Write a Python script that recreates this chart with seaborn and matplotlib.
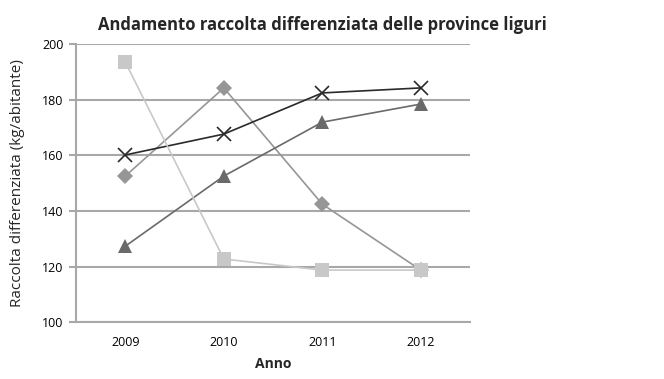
import matplotlib
matplotlib.use('Agg')
import matplotlib.pyplot as plt
import seaborn as sns
import pandas as pd
import numpy as np

# dati
anni = ['2009', '2010', '2011', '2012']
serie_quadrato = [193.5, 122.7, 118.7, 118.7]
serie_rombo = [152.5, 184.2, 142.4, 118.7]
serie_triangolo = [127.3, 152.5, 171.9, 178.4]
serie_croce = [160.1, 167.6, 182.4, 184.2]

sns.set_theme(style='white')
plt.rcParams['font.family'] = ['Open Sans', 'DejaVu Sans']

fig = plt.figure(figsize=(6.64, 3.79), dpi=100)
ax = fig.add_axes([0.1145, 0.150, 0.5935, 0.734])

pos = np.arange(len(anni))
# ordine di disegno: il quadrato sta sopra il rombo nel 2012
stili = [
    (serie_rombo, 'D', '#969696', 8),
    (serie_triangolo, '^', '#6a6a6a', 10),
    (serie_croce, 'x', '#2a2a2a', 10),
    (serie_quadrato, 's', '#c8c8c8', 10),
]
for valori, marker, colore, ms in stili:
    df = pd.DataFrame({'x': pos, 'y': valori})
    sns.lineplot(data=df, x='x', y='y', ax=ax, color=colore, linewidth=1.2,
                 marker=marker, markersize=ms, markerfacecolor=colore,
                 markeredgecolor=colore, markeredgewidth=1.2 if marker == 'x' else 0)

ax.set_xlim(-0.5, 3.5)
ax.set_ylim(100, 200)
ax.set_yticks(range(100, 201, 20))
ax.set_xticks(pos)
ax.set_xticklabels(anni)
ax.set_xticks(np.arange(-0.5, 3.6, 1), minor=True)

ax.yaxis.grid(True, color='#a8a8a8', linewidth=1.5)
ax.set_axisbelow(True)
for lato in ['top', 'right']:
    ax.spines[lato].set_visible(False)
for lato in ['left', 'bottom']:
    ax.spines[lato].set_color('#a8a8a8')
    ax.spines[lato].set_linewidth(1.5)

ax.tick_params(axis='x', which='major', length=0, labelsize=9, pad=10, colors='#000000')
ax.tick_params(axis='x', which='minor', length=5, width=1.5, color='#a8a8a8', direction='out')
ax.tick_params(axis='y', length=5, width=1.5, color='#a8a8a8', direction='out', labelsize=9,
               labelcolor='#000000', pad=4, left=True)

ax.set_xlabel('Anno', fontsize=10, fontweight='bold', labelpad=6)
ax.set_ylabel('Raccolta differenziata (kg/abitante)', fontsize=11, labelpad=12)
fig.text(0.485, 0.935, 'Andamento raccolta differenziata delle province liguri',
         ha='center', va='center', fontsize=12, fontweight='bold')

fig.savefig('out.png', dpi=100, facecolor='white')
